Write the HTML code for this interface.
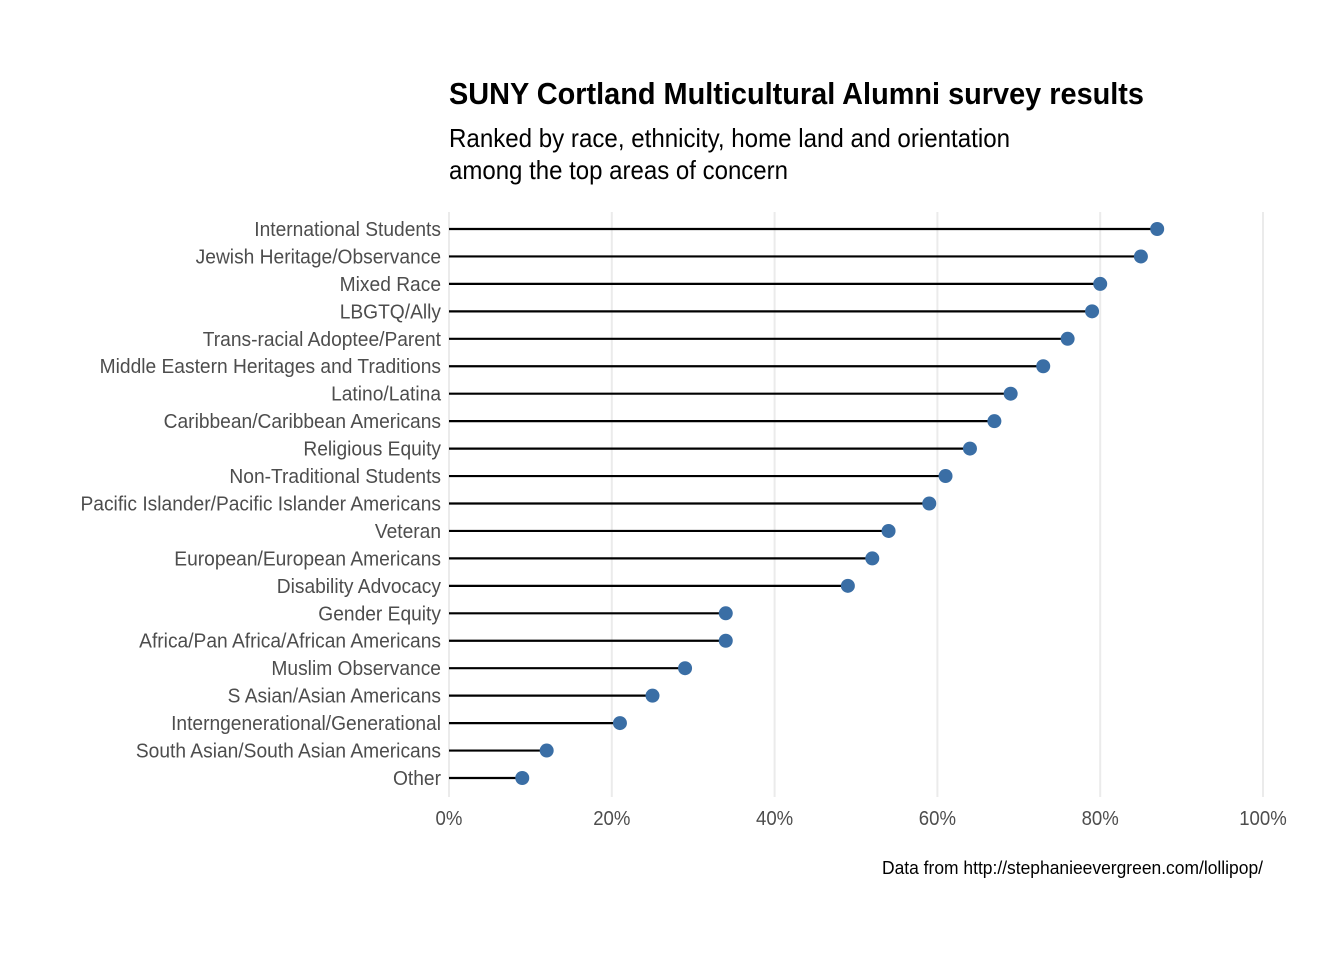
<!DOCTYPE html>
<html><head><meta charset="utf-8"><style>
body{margin:0;background:#fff}
svg text{font-family:"Liberation Sans Narrow","Liberation Sans",sans-serif}
</style></head><body>
<svg width="1344" height="960" xmlns="http://www.w3.org/2000/svg">
<g id="grid"></g>
<g id="marks"></g>
<g id="labels" transform="translate(441,0) scale(0.96,1) translate(-441,0)"></g>
<g id="ticks"></g>
<text x="449" y="104" font-size="31" font-weight="bold" fill="#000" textLength="695" lengthAdjust="spacingAndGlyphs">SUNY Cortland Multicultural Alumni survey results</text>
<text x="449" y="147" font-size="26" fill="#000" textLength="561" lengthAdjust="spacingAndGlyphs">Ranked by race, ethnicity, home land and orientation</text>
<text x="449" y="179" font-size="26" fill="#000" textLength="339" lengthAdjust="spacingAndGlyphs">among the top areas of concern</text>
<text x="1263" y="874" font-size="18" fill="#000" text-anchor="end" textLength="381" lengthAdjust="spacingAndGlyphs">Data from http://stephanieevergreen.com/lollipop/</text>
</svg>
<script>
const categories=["International Students","Jewish Heritage/Observance","Mixed Race","LBGTQ/Ally","Trans-racial Adoptee/Parent","Middle Eastern Heritages and Traditions","Latino/Latina","Caribbean/Caribbean Americans","Religious Equity","Non-Traditional Students","Pacific Islander/Pacific Islander Americans","Veteran","European/European Americans","Disability Advocacy","Gender Equity","Africa/Pan Africa/African Americans","Muslim Observance","S Asian/Asian Americans","Interngenerational/Generational","South Asian/South Asian Americans","Other"];
const values=[87,85,80,79,76,73,69,67,64,61,59,54,52,49,34,34,29,25,21,12,9];
const tickValues=[0,20,40,60,80,100];
const tickLabels=["0%","20%","40%","60%","80%","100%"];
const NS="http://www.w3.org/2000/svg";
const x=v=>449+v*8.14;
const y=i=>229+i*(549/(categories.length-1));
function mk(t,a,p){const e=document.createElementNS(NS,t);for(const k in a)e.setAttribute(k,a[k]);p.appendChild(e);return e;}
const grid=document.getElementById('grid'),marks=document.getElementById('marks'),labels=document.getElementById('labels'),ticks=document.getElementById('ticks');
tickValues.forEach((v,i)=>{
 const l=mk('line',{x1:x(v),x2:x(v),y1:212,y2:797,stroke:'#ebebeb','stroke-width':2},grid);
 
 
 const t=mk('text',{x:x(v),y:825,'font-size':20,fill:'#4d4d4d','text-anchor':'middle',transform:'translate('+x(v)+',0) scale(0.93,1) translate('+(-x(v))+',0)'},ticks);
 t.textContent=tickLabels[i];
 
 
});
categories.forEach((c,i)=>{
 const l=mk('line',{x1:x(0),x2:x(values[i]),y1:y(i),y2:y(i),stroke:'#000','stroke-width':2.2},marks);
 
 
 const d=mk('circle',{cx:x(values[i]),cy:y(i),r:7,fill:'#3a6ea5'},marks);
 
 
 const t=mk('text',{x:441,y:y(i)+7,'font-size':20,fill:'#4d4d4d','text-anchor':'end'},labels);
 t.textContent=c;
 
 
});
</script>
</body></html>
